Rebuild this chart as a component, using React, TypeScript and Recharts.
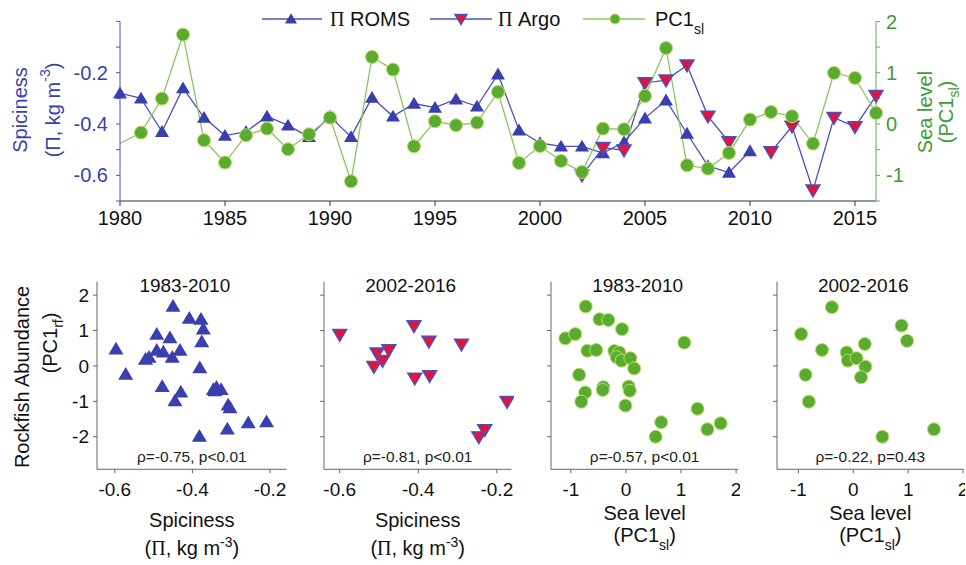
import React from 'react';
import { LineChart, Line, XAxis, YAxis, ScatterChart, Scatter, Label } from 'recharts';

const FONT = '"Liberation Sans", Arial, Helvetica, sans-serif';
const BLUE = '#3a3fae';
const BLUE_LINE = '#4c50c0';
const RED = '#e3133b';
const GREEN_DOT = '#5aab30';
const GREEN_EDGE = '#b9dc6a';
const GREEN_LINE = '#8cc462';
const GREEN_AXIS = '#62ad5a';
const GREEN_TEXT = '#3e9a38';
const GREY = '#666';

// ---- top panel: time series ----
const years = [
  1980, 1981, 1982, 1983, 1984, 1985, 1986, 1987, 1988, 1989, 1990, 1991, 1992, 1993, 1994, 1995, 1996, 1997, 1998,
  1999, 2000, 2001, 2002, 2003, 2004, 2005, 2006, 2007, 2008, 2009, 2010, 2011, 2012, 2013, 2014, 2015, 2016,
];
const romsSpiciness = [
  -0.28, -0.3, -0.43, -0.26, -0.375, -0.445, -0.43, -0.37, -0.405, -0.45, -0.37, -0.45, -0.297, -0.37, -0.32, -0.336,
  -0.303, -0.331, -0.206, -0.424, -0.474, -0.487, -0.487, -0.513, -0.47, -0.377, -0.307, -0.437, -0.563, -0.589,
  -0.505, null, null, null, null, null, null,
];
const argoSpiciness = [
  null, null, null, null, null, null, null, null, null, null, null, null, null, null, null, null, null, null, null,
  null, null, null, -0.6, -0.492, -0.502, -0.24, -0.229, -0.171, -0.37, -0.47, null, -0.509, -0.409, -0.658, -0.375,
  -0.411, -0.29,
];
const seaLevelPC1 = [
  -0.38, -0.167, 0.496, 1.743, -0.317, -0.751, -0.219, -0.089, -0.492, -0.2, 0.126, -1.116, 1.307, 1.061, -0.434,
  0.054, -0.024, 0.028, 0.625, -0.759, -0.428, -0.72, -0.935, -0.089, -0.102, 0.547, 1.482, -0.804, -0.868, -0.564,
  0.087, 0.235, 0.151, -0.381, 0.995, 0.898, 0.215,
];
const yearTicks = [1980, 1985, 1990, 1995, 2000, 2005, 2010, 2015];
const piTicks = [-0.7, -0.6, -0.5, -0.4, -0.3, -0.2, -0.1, 0];
const piLabels = ['-0.2', '-0.4', '-0.6'];
const seaTicks = [-1.5, -1, -0.5, 0, 0.5, 1, 1.5, 2];

// ---- bottom panels: rockfish abundance scatter ----
const romsVsRockfish: [number, number][] = [
  [-0.597, 0.48], [-0.572, -0.23], [-0.521, 0.19], [-0.512, 0.25], [-0.492, 0.9], [-0.492, 0.45], [-0.475, 0.4],
  [-0.478, -0.58], [-0.458, 0.8], [-0.452, 0.25], [-0.432, 0.45], [-0.45, 1.69], [-0.445, -0.98], [-0.43, -0.73],
  [-0.408, 1.35], [-0.378, 1.32], [-0.372, 1.05], [-0.376, 0.69], [-0.381, -0.05], [-0.382, -1.98], [-0.346, -0.66],
  [-0.338, -0.6], [-0.326, -0.66], [-0.342, -0.7], [-0.308, -1.1], [-0.303, -1.18], [-0.31, -1.78], [-0.256, -1.6],
  [-0.209, -1.57],
];
const argoVsRockfish: [number, number][] = [
  [-0.6, 0.88], [-0.505, 0.36], [-0.475, 0.45], [-0.491, 0.15], [-0.513, -0.02], [-0.411, 1.13], [-0.373, 0.69],
  [-0.29, 0.61], [-0.409, -0.35], [-0.371, -0.28], [-0.174, -1.01], [-0.231, -1.81], [-0.246, -2.01],
];
const seaVsRockfishEarly: [number, number][] = [
  [-0.73, 1.68], [-0.48, 1.32], [-0.32, 1.3], [-0.07, 1.04], [-1.1, 0.78], [-0.92, 0.9], [1.06, 0.66], [-0.7, 0.43],
  [-0.54, 0.45], [-0.21, 0.42], [-0.12, 0.38], [-0.17, 0.25], [-0.08, 0.15], [0.08, 0.22], [0.15, -0.07],
  [-0.85, -0.25], [-0.41, -0.6], [-0.42, -0.68], [0.05, -0.58], [0.07, -0.7], [-0.74, -0.75], [-0.81, -1.01],
  [-0.01, -1.12], [1.3, -1.21], [0.64, -1.59], [1.72, -1.62], [1.48, -1.79], [0.54, -2.0],
];
const seaVsRockfishLate: [number, number][] = [
  [-0.39, 1.66], [-0.95, 0.9], [0.88, 1.14], [0.98, 0.71], [0.21, 0.62], [-0.57, 0.45], [-0.12, 0.38], [-0.1, 0.15],
  [0.06, 0.22], [0.22, -0.02], [0.14, -0.32], [-0.87, -0.25], [-0.81, -1.01], [1.47, -1.79], [0.53, -2.0],
];
const rockfishTicks = [-2, -1, 0, 1, 2];
const spiceTicks = [-0.6, -0.4, -0.2];
const seaLevelTicks = [-1, 0, 1, 2];

const seriesTable = years.map((year, i) => ({
  year,
  roms: romsSpiciness[i],
  argo: argoSpiciness[i],
  sea: seaLevelPC1[i],
}));

const TriUp = ({ cx, cy, s = 7 }: { cx: number; cy: number; s?: number }) => (
  <path d={`M${cx},${cy - s * 0.95} L${cx + s},${cy + s * 0.75} L${cx - s},${cy + s * 0.75} Z`} fill={BLUE} />
);
const TriDown = ({ cx, cy, s = 7 }: { cx: number; cy: number; s?: number }) => (
  <path
    d={`M${cx},${cy + s * 0.95} L${cx + s},${cy - s * 0.75} L${cx - s},${cy - s * 0.75} Z`}
    fill={RED}
    stroke={BLUE_LINE}
    strokeWidth={1.4}
  />
);
const Dot = ({ cx, cy, r = 6.5 }: { cx: number; cy: number; r?: number }) => (
  <circle cx={cx} cy={cy} r={r} fill={GREEN_DOT} stroke={GREEN_EDGE} strokeWidth={1} />
);

const ok = (p: any) => p && p.cx != null && p.cy != null && !Number.isNaN(p.cy);

const RotText = ({ x, y, color, size = 20, children }: any) => (
  <text
    x={x}
    y={y}
    transform={`rotate(-90, ${x}, ${y})`}
    textAnchor="middle"
    dominantBaseline="central"
    fill={color}
    fontSize={size}
    fontFamily={FONT}
  >
    {children}
  </text>
);

function TopChart() {
  return (
    <LineChart
      width={966}
      height={241}
      data={seriesTable}
      margin={{ top: 21.4, right: 0, bottom: 0, left: 0 }}
      style={{ position: 'absolute', left: 0, top: 0 }}
    >
      <XAxis
        dataKey="year"
        type="number"
        domain={[1980, 2016]}
        ticks={yearTicks}
        interval={0}
        height={40}
        tickSize={5}
        tickMargin={5}
        axisLine={{ stroke: '#333' }}
        tickLine={{ stroke: '#333' }}
        tick={{ fill: '#111', fontSize: 20, fontFamily: FONT }}
      />
      <YAxis
        yAxisId="pi"
        domain={[-0.7, 0]}
        ticks={piTicks}
        interval={0}
        width={120}
        tickSize={4}
        tickMargin={8}
        axisLine={{ stroke: BLUE_LINE }}
        tickLine={{ stroke: BLUE_LINE }}
        tick={{ fill: BLUE, fontSize: 20, fontFamily: FONT }}
        tickFormatter={(v: number) => {
          const s = v.toFixed(1);
          return piLabels.includes(s) ? s : '';
        }}
      >
        <Label
          content={() => (
            <g>
              <RotText x={20} y={110} color={BLUE}>
                Spiciness
              </RotText>
              <RotText x={53} y={110} color={BLUE}>
                (Π, kg m
                <tspan baselineShift="super" fontSize={14}>
                  -3
                </tspan>
                )
              </RotText>
            </g>
          )}
        />
      </YAxis>
      <YAxis
        yAxisId="sea"
        orientation="right"
        domain={[-1.5, 2]}
        ticks={seaTicks}
        interval={0}
        width={90}
        tickSize={4}
        tickMargin={6}
        axisLine={{ stroke: GREEN_AXIS }}
        tickLine={{ stroke: GREEN_AXIS }}
        tick={{ fill: GREEN_TEXT, fontSize: 20, fontFamily: FONT }}
        tickFormatter={(v: number) => (Number.isInteger(v) ? String(v) : '')}
      >
        <Label
          content={() => (
            <g>
              <RotText x={925} y={112} color={GREEN_TEXT}>
                Sea level
              </RotText>
              <RotText x={946} y={112} color={GREEN_TEXT}>
                (PC1
                <tspan baselineShift="sub" fontSize={14}>
                  sl
                </tspan>
                )
              </RotText>
            </g>
          )}
        />
      </YAxis>
      <Line
        yAxisId="pi"
        dataKey="roms"
        stroke={BLUE_LINE}
        strokeWidth={1.3}
        isAnimationActive={false}
        dot={(p: any) => (ok(p) ? <TriUp key={p.index} cx={p.cx} cy={p.cy} /> : <g key={p.index} />)}
      />
      <Line
        yAxisId="pi"
        dataKey="argo"
        stroke={BLUE_LINE}
        strokeWidth={1.3}
        isAnimationActive={false}
        dot={(p: any) => (ok(p) ? <TriDown key={p.index} cx={p.cx} cy={p.cy} /> : <g key={p.index} />)}
      />
      <Line
        yAxisId="sea"
        dataKey="sea"
        stroke={GREEN_LINE}
        strokeWidth={1.3}
        isAnimationActive={false}
        dot={(p: any) =>
          ok(p) && p.index > 0 ? <Dot key={p.index} cx={p.cx} cy={p.cy} /> : <g key={p.index} />
        }
      />
    </LineChart>
  );
}

function LegendBar() {
  const y = 19;
  return (
    <svg width={966} height={40} style={{ position: 'absolute', left: 0, top: 0 }}>
      <line x1={262} x2={322} y1={y} y2={y} stroke={BLUE_LINE} strokeWidth={1.3} />
      <TriUp cx={291} cy={y} s={6} />
      <text x={330} y={y + 7} fontSize={20} fontFamily={FONT} fill="#111">
        <tspan fontFamily='"Liberation Serif", serif'>Π</tspan> ROMS
      </text>
      <line x1={430} x2={492} y1={y} y2={y} stroke={BLUE_LINE} strokeWidth={1.3} />
      <TriDown cx={461} cy={y} s={6} />
      <text x={498} y={y + 7} fontSize={20} fontFamily={FONT} fill="#111">
        <tspan fontFamily='"Liberation Serif", serif'>Π</tspan> Argo
      </text>
      <line x1={583} x2={645} y1={y} y2={y} stroke={GREEN_LINE} strokeWidth={1.3} />
      <Dot cx={615} cy={y} r={5} />
      <text x={655} y={y + 7} fontSize={20} fontFamily={FONT} fill="#111">
        PC1
        <tspan baselineShift="sub" fontSize={14}>
          sl
        </tspan>
      </text>
    </svg>
  );
}

type PanelProps = {
  points: [number, number][];
  plotLeft: number;
  plotWidth: number;
  xDomain: [number, number];
  xTicks: number[];
  title: string;
  stat: string;
  marker: 'up' | 'down' | 'dot';
  spice: boolean;
  first?: boolean;
};

const PLOT_TOP = 11.7;
const PLOT_H = 187.6;

function Panel({ points, plotLeft, plotWidth, xDomain, xTicks, title, stat, marker, spice, first }: PanelProps) {
  const yW = first ? 97 : 12;
  const data = points.map(([x, y]) => ({ x, y }));
  const shape = (p: any) => {
    if (!ok(p)) return <g />;
    if (marker === 'up') return <TriUp cx={p.cx} cy={p.cy} s={7.5} />;
    if (marker === 'down') return <TriDown cx={p.cx} cy={p.cy} s={7} />;
    return <Dot cx={p.cx} cy={p.cy} r={6.5} />;
  };
  const cxMid = yW + plotWidth / 2;
  const bottom = PLOT_TOP + PLOT_H;
  return (
    <ScatterChart
      width={yW + plotWidth + 2}
      height={PLOT_TOP + PLOT_H + 95}
      margin={{ top: PLOT_TOP, right: 2, bottom: 0, left: 0 }}
      style={{ position: 'absolute', left: plotLeft - yW, top: 270 }}
    >
      <XAxis
        dataKey="x"
        type="number"
        domain={xDomain}
        ticks={xTicks}
        interval={0}
        height={95}
        tickSize={4}
        tickMargin={9}
        axisLine={{ stroke: GREY }}
        tickLine={{ stroke: GREY }}
        tick={{ fill: '#111', fontSize: 19, fontFamily: FONT }}
      >
        <Label
          content={() => (
            <g fontFamily={FONT} fill="#111" textAnchor="middle">
              <text x={cxMid - 7} y={PLOT_TOP + 10} fontSize={19}>
                {title}
              </text>
              <text x={cxMid} y={bottom - 7} fontSize={15.5} fill="#222">
                {stat}
              </text>
              {spice ? (
                <>
                  <text x={cxMid} y={bottom + 58} fontSize={20}>
                    Spiciness
                  </text>
                  <text x={cxMid} y={bottom + 86} fontSize={20}>
                    (<tspan fontFamily='"Liberation Serif", serif'>Π</tspan>, kg m
                    <tspan baselineShift="super" fontSize={14}>
                      -3
                    </tspan>
                    )
                  </text>
                </>
              ) : (
                <>
                  <text x={cxMid} y={bottom + 51} fontSize={20}>
                    Sea level
                  </text>
                  <text x={cxMid} y={bottom + 73} fontSize={20}>
                    (PC1
                    <tspan baselineShift="sub" fontSize={14}>
                      sl
                    </tspan>
                    )
                  </text>
                </>
              )}
            </g>
          )}
        />
      </XAxis>
      <YAxis
        dataKey="y"
        type="number"
        domain={[-2.92, 2.38]}
        ticks={rockfishTicks}
        interval={0}
        width={yW}
        tickSize={4}
        tickMargin={4}
        axisLine={{ stroke: GREY }}
        tickLine={{ stroke: GREY }}
        tick={{ fill: '#111', fontSize: 19, fontFamily: FONT }}
        tickFormatter={(v: number) => (first ? String(v) : '')}
      >
        {first && (
          <Label
            content={() => (
              <g>
                <RotText x={22} y={107} color="#111">
                  Rockfish Abundance
                </RotText>
                <RotText x={50} y={73} color="#111">
                  (PC1
                  <tspan baselineShift="sub" fontSize={14}>
                    rf
                  </tspan>
                  )
                </RotText>
              </g>
            )}
          />
        )}
      </YAxis>
      <Scatter data={data} isAnimationActive={false} shape={shape} />
    </ScatterChart>
  );
}

export default function App() {
  return (
    <div style={{ position: 'absolute', left: 0, top: 0, width: 966, height: 565, background: '#fff', overflow: 'hidden' }}>
      <TopChart />
      <LegendBar />
      <Panel
        points={romsVsRockfish}
        plotLeft={97}
        plotWidth={189.7}
        xDomain={[-0.646, -0.157]}
        xTicks={spiceTicks}
        title="1983-2010"
        stat="ρ=-0.75, p<0.01"
        marker="up"
        spice
        first
      />
      <Panel
        points={argoVsRockfish}
        plotLeft={324.3}
        plotWidth={187.4}
        xDomain={[-0.64, -0.163]}
        xTicks={spiceTicks}
        title="2002-2016"
        stat="ρ=-0.81, p<0.01"
        marker="down"
        spice
      />
      <Panel
        points={seaVsRockfishEarly}
        plotLeft={551}
        plotWidth={187.3}
        xDomain={[-1.36, 2.04]}
        xTicks={seaLevelTicks}
        title="1983-2010"
        stat="ρ=-0.57, p<0.01"
        marker="dot"
        spice={false}
      />
      <Panel
        points={seaVsRockfishLate}
        plotLeft={776.7}
        plotWidth={186.6}
        xDomain={[-1.39, 2.01]}
        xTicks={seaLevelTicks}
        title="2002-2016"
        stat="ρ=-0.22, p=0.43"
        marker="dot"
        spice={false}
      />
    </div>
  );
}
